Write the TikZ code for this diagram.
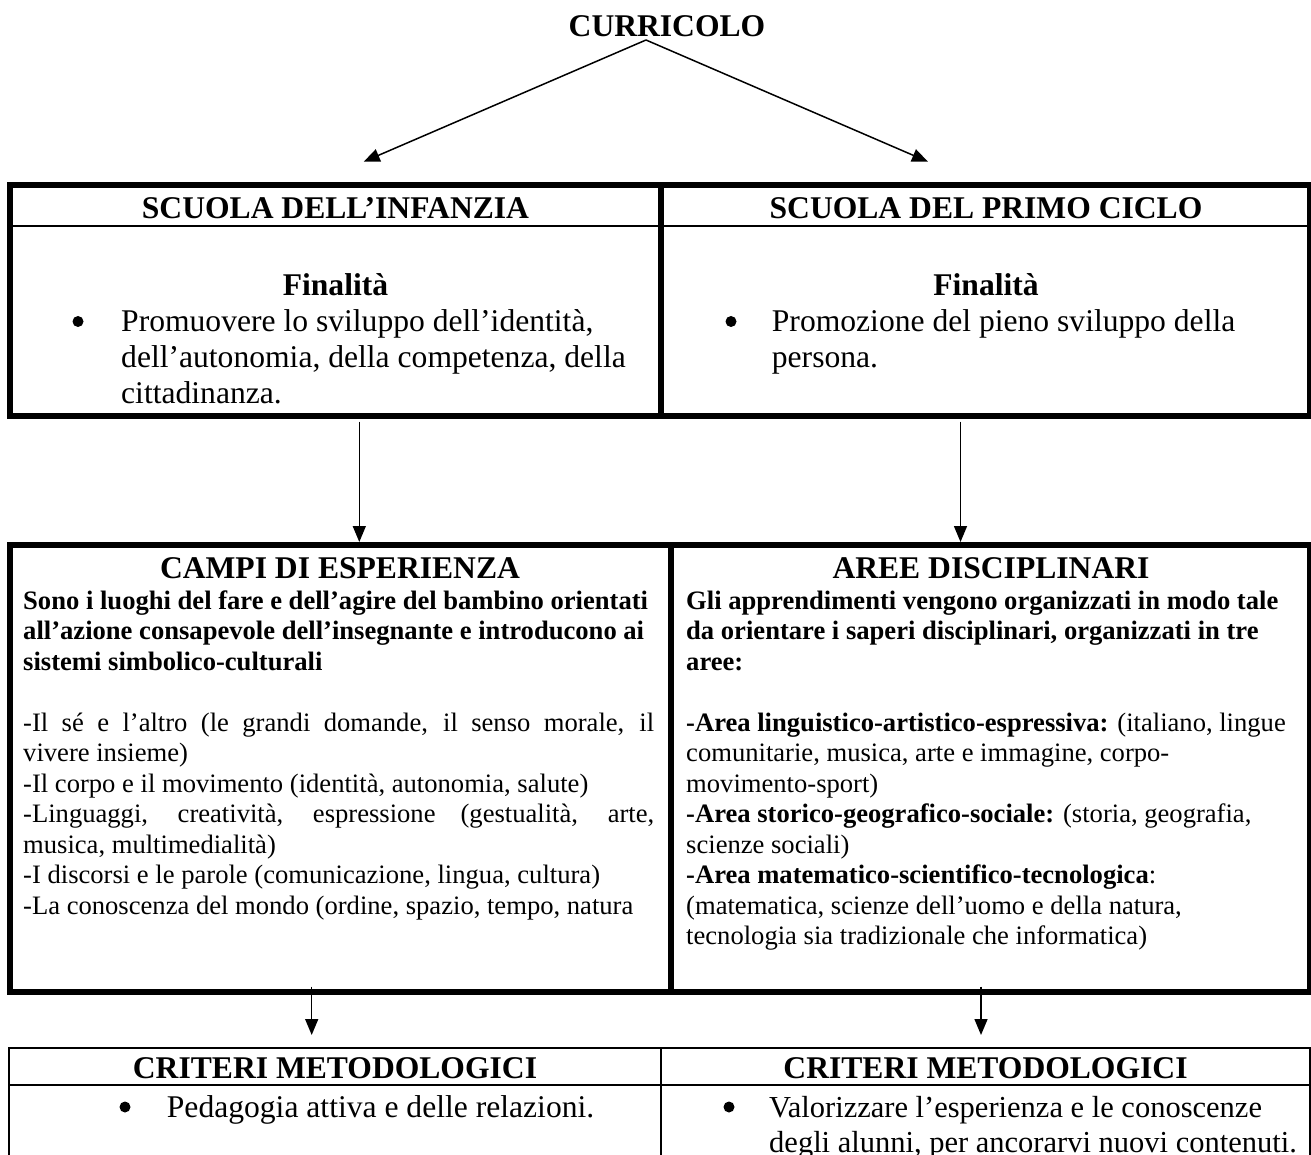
\documentclass[tikz,border=0pt]{standalone}
\usepackage{fontspec}
\setmainfont{Liberation Serif}
\usetikzlibrary{arrows.meta}
\newcommand\hdf{\fontsize{31.6}{36}\selectfont\bfseries}
\newcommand\bdf{\fontsize{31.6}{36}\selectfont}
\newcommand\smf{\fontsize{26.6}{30.5}\selectfont}
\newcommand\crf{\fontsize{30.5}{35}\selectfont}
\tikzset{
  thickb/.style={line width=6pt},
  thinb/.style={line width=2pt},
  arr/.style={line width=1.5pt,-{Triangle[length=16pt,width=13pt]}},
  ctxt/.style={inner sep=0pt,anchor=base},
  ltxt/.style={inner sep=0pt,anchor=base west},
  bul/.style={circle,fill=black,inner sep=0pt,minimum size=11pt}
}
\begin{document}
\begin{tikzpicture}[x=1pt,y=-1pt]
\useasboundingbox (0,0) rectangle (1311,1155);
\clip (0,0) rectangle (1311,1155);
\fill[white] (0,0) rectangle (1311,1155);

% title and arrows
\node[ctxt] (cur) at (667,36.7) {\hdf CURRICOLO};
\coordinate (apex) at (646,40);
\coordinate (tl) at (363.7,161.7);
\coordinate (tr) at (928,161.7);
\draw[arr] (apex) -- (tl);
\draw[arr] (apex) -- (tr);

% row 1 table
\draw[thickb] (10,185) rectangle (1310,416);
\draw[thickb] (661,185) -- (661,416);
\draw[thinb] (13,226) -- (1307,226);
\node[ctxt] (h1) at (335.5,218.3) {\hdf SCUOLA DELL’INFANZIA};
\node[ctxt] (h2) at (986,218.3) {\hdf SCUOLA DEL PRIMO CICLO};
\node[ctxt] (f1) at (335.5,295.5) {\hdf Finalità};
\node[ctxt] (f2) at (986,295.5) {\hdf Finalità};
\node[bul] (b1) at (78,321.5) {};
\node[ltxt] (t1) at (121,331.5) {\parbox[t]{600pt}{\bdf Promuovere lo sviluppo dell’identità,\\ dell’autonomia, della competenza, della\\ cittadinanza.}};
\node[bul] (b2) at (731,321.5) {};
\node[ltxt] (t2) at (771.7,331.5) {\parbox[t]{530pt}{\bdf Promozione del pieno sviluppo della\\ persona.}};

% arrows row 1 -> row 2
\coordinate (a1s) at (359.3,421.7);
\coordinate (a1e) at (359.3,542);
\coordinate (a2s) at (960.5,421.7);
\coordinate (a2e) at (960.5,542);
\draw[arr] (a1s) -- (a1e);
\draw[arr] (a2s) -- (a2e);

% row 2 table
\draw[thickb] (9.7,545.3) rectangle (1310,992.3);
\draw[thickb] (670.5,545.3) -- (670.5,992.3);
\node[ctxt] (h3) at (340,578) {\hdf CAMPI DI ESPERIENZA};
\node[ctxt] (h4) at (991,578) {\hdf AREE DISCIPLINARI};
\node[ltxt] (t3) at (23,609) {\parbox[t]{640pt}{\smf
{\bfseries Sono i luoghi del fare e dell’agire del bambino orientati}\\
{\bfseries all’azione consapevole dell’insegnante e introducono ai}\\
{\bfseries sistemi simbolico-culturali}\\[30.5pt]
\makebox[631pt][s]{-Il sé e l’altro (le grandi domande, il senso morale, il}\\
vivere insieme)\\
-Il corpo e il movimento (identità, autonomia, salute)\\
\makebox[631pt][s]{-Linguaggi, creatività, espressione (gestualità, arte,}\\
musica, multimedialità)\\
-I discorsi e le parole (comunicazione, lingua, cultura)\\
-La conoscenza del mondo (ordine, spazio, tempo, natura}};
\node[ltxt] (t4) at (686,609) {\parbox[t]{620pt}{\smf
{\bfseries Gli apprendimenti vengono organizzati in modo tale}\\
{\bfseries da orientare i saperi disciplinari, organizzati in tre}\\
{\bfseries aree:}\\[30.5pt]
{\bfseries -Area linguistico-artistico-espressiva:} (italiano, lingue\\
comunitarie, musica, arte e immagine, corpo-\\
movimento-sport)\\
{\bfseries -Area storico-geografico-sociale:} (storia, geografia,\\
scienze sociali)\\
{\bfseries -Area matematico-scientifico-tecnologica}:\\
(matematica, scienze dell’uomo e della natura,\\
tecnologia sia tradizionale che informatica)}};

% arrows row 2 -> row 3
\coordinate (a3s) at (311.7,986.7);
\coordinate (a3e) at (311.7,1035);
\coordinate (a4s) at (981,986.7);
\coordinate (a4e) at (981,1035);
\draw[arr] (a3s) -- (a3e);
\draw[arr] (a4s) -- (a4e);

% row 3 table
\draw[thinb] (9.2,1170) -- (9.2,1047.5) -- (1309.5,1047.5) -- (1309.5,1170);
\draw[thinb] (9.2,1085) -- (1309.5,1085);
\draw[thinb] (661,1047.5) -- (661,1170);
\node[ctxt] (h5) at (335,1078) {\hdf CRITERI METODOLOGICI};
\node[ctxt] (h6) at (985.5,1078) {\hdf CRITERI METODOLOGICI};
\node[bul] (b3) at (125,1107) {};
\node[ltxt] (t5) at (166.7,1117) {\bdf Pedagogia attiva e delle relazioni.};
\node[bul] (b4) at (729,1107) {};
\node[ltxt] (t6) at (769,1117) {\parbox[t]{560pt}{\crf Valorizzare l’esperienza e le conoscenze\\ degli alunni, per ancorarvi nuovi contenuti.}};
\end{tikzpicture}
\end{document}
